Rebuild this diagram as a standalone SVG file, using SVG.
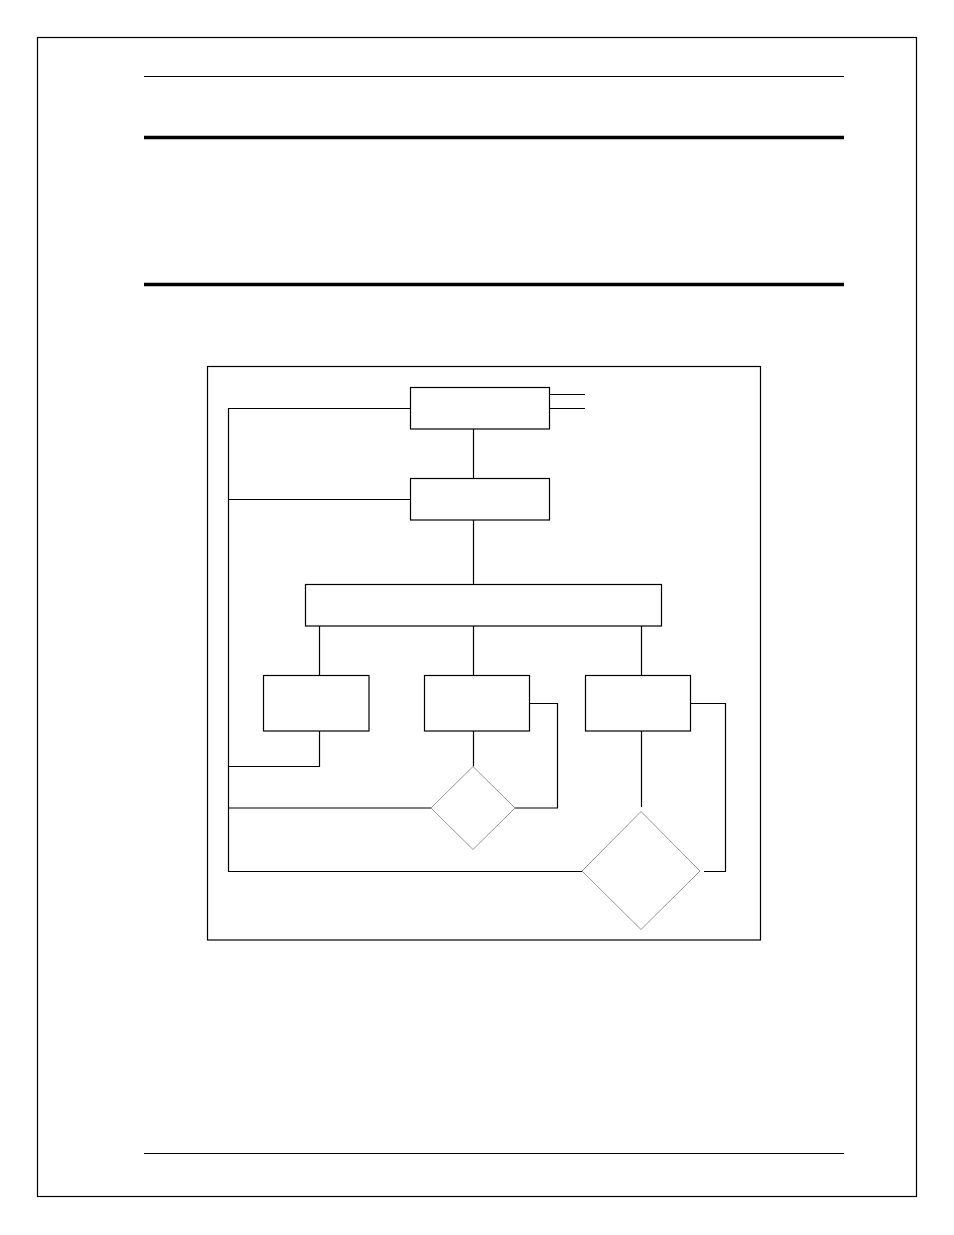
<svg xmlns="http://www.w3.org/2000/svg" width="954" height="1235" viewBox="0 0 954 1235">
<style>
.ln{fill:none;stroke:#000;stroke-width:1.2}
.thick{fill:none;stroke:#000;stroke-width:3.5}
.box{fill:#fff;stroke:#000;stroke-width:1.2}
.dia{fill:#fff;stroke:#999;stroke-width:1}
</style>
<rect width="954" height="1235" fill="#fff"/>
<g id="page">
<rect class="ln" x="37.5" y="37.5" width="879" height="1159"/>
<line class="ln" x1="144" y1="76.5" x2="844" y2="76.5"/>
<line class="thick" x1="144" y1="137.5" x2="844" y2="137.5"/>
<line class="thick" x1="144" y1="284.5" x2="844" y2="284.5"/>
<line class="ln" x1="144" y1="1153.5" x2="844" y2="1153.5"/>
<rect class="ln" x="207.5" y="366.5" width="553" height="573.5"/>
</g>
<g id="connectors">
<polyline class="ln" points="549.5,394.5 585,394.5"/>
<polyline class="ln" points="549.5,408.5 585,408.5"/>
<polyline class="ln" points="410.5,408.5 228.5,408.5 228.5,871.5 582,871.5"/>
<polyline class="ln" points="410.5,499.5 228.5,499.5"/>
<line class="ln" x1="473.5" y1="429" x2="473.5" y2="478"/>
<line class="ln" x1="473.5" y1="520" x2="473.5" y2="584"/>
<line class="ln" x1="319.5" y1="626" x2="319.5" y2="675"/>
<line class="ln" x1="473.5" y1="626" x2="473.5" y2="675"/>
<line class="ln" x1="641.5" y1="626" x2="641.5" y2="675"/>
<polyline class="ln" points="319.5,731 319.5,766.5 228.5,766.5"/>
<line class="ln" x1="473.5" y1="731" x2="473.5" y2="766.5"/>
<line class="ln" x1="228.5" y1="808" x2="431" y2="808"/>
<polyline class="ln" points="529.5,703.5 557.5,703.5 557.5,808 515,808"/>
<line class="ln" x1="641.5" y1="731" x2="641.5" y2="807"/>
<polyline class="ln" points="690.5,703.5 725.5,703.5 725.5,871.5 704,871.5"/>
</g>
<g id="node-top"><rect class="box" x="410.5" y="387.5" width="139" height="41.5"/></g>
<g id="node-second"><rect class="box" x="410.5" y="478.5" width="139" height="41.5"/></g>
<g id="node-wide"><rect class="box" x="305.5" y="584.5" width="356" height="41.5"/></g>
<g id="node-left"><rect class="box" x="263.5" y="675.5" width="105.5" height="55.5"/></g>
<g id="node-mid"><rect class="box" x="424.5" y="675.5" width="105" height="55.5"/></g>
<g id="node-right"><rect class="box" x="585.5" y="675.5" width="105" height="55.5"/></g>
<g id="decision-1"><polygon class="dia" points="473,766.5 515,808 473,849.5 431,808"/></g>
<g id="decision-2"><polygon class="dia" points="641,811.5 700,871 641,929.5 582,871"/></g>
</svg>
